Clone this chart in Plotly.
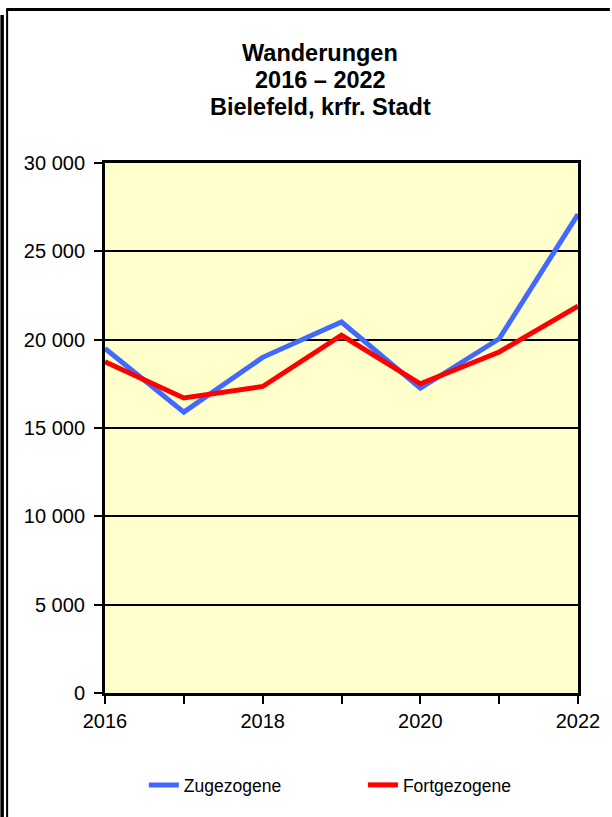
import plotly.graph_objects as go

years = [2016, 2017, 2018, 2019, 2020, 2021, 2022]
zugezogene = [19500, 15900, 19000, 21000, 17250, 20050, 27100]
fortgezogene = [18750, 16700, 17350, 20250, 17500, 19300, 21900]
x_tickvals = [2016, 2017, 2018, 2019, 2020, 2021, 2022]
x_ticktext = ["2016", "", "2018", "", "2020", "", "2022"]
y_tickvals = [0, 5000, 10000, 15000, 20000, 25000, 30000]
y_ticktext = ["0", "5 000", "10 000", "15 000", "20 000", "25 000", "30 000"]
title_lines = ["Wanderungen", "2016 \u2013 2022", "Bielefeld, krfr. Stadt"]

FONT = "Liberation Sans, Arial, sans-serif"
W, H = 612, 817
L, R, T, B = 105, 580, 163, 693


def px(xp):
    return (xp - L) / (R - L)


def py(yp):
    return (B - yp) / (B - T)


fig = go.Figure()
fig.add_trace(go.Scatter(x=years, y=zugezogene, mode="lines", name="Zugezogene",
                         line=dict(color="#4169FF", width=5), legend="legend"))
fig.add_trace(go.Scatter(x=years, y=fortgezogene, mode="lines", name="Fortgezogene",
                         line=dict(color="#FF0000", width=5), legend="legend2"))

leg_common = dict(orientation="h", xanchor="left", y=py(785), yanchor="middle",
                  font=dict(size=17.5, family=FONT), bgcolor="rgba(0,0,0,0)")

fig.update_layout(
    width=W, height=H,
    margin=dict(l=L, r=W - R, t=T, b=H - B, pad=0),
    paper_bgcolor="white", plot_bgcolor="#FFFFCC",
    font=dict(family=FONT, color="black", size=20),
    showlegend=True,
    legend=dict(x=px(144), **leg_common),
    legend2=dict(x=px(364), **leg_common),
    xaxis=dict(range=[2016, 2022], tickvals=x_tickvals, ticktext=x_ticktext,
               showgrid=False, zeroline=False, showline=True, linecolor="black",
               linewidth=3, mirror=True, ticks="outside", ticklen=8, tickwidth=2,
               tickcolor="black", tickfont=dict(size=20)),
    yaxis=dict(range=[0, 30000], tickvals=y_tickvals, ticktext=y_ticktext,
               showgrid=True, gridcolor="black", gridwidth=2, zeroline=False,
               showline=True, linecolor="black", linewidth=3, mirror=True,
               ticks="outside", ticklen=8, tickwidth=2, tickcolor="black",
               tickfont=dict(size=20), ticklabelstandoff=5),
)

ys = [53, 80, 107]
for txt, yp in zip(title_lines, ys):
    fig.add_annotation(text="<b>%s</b>" % txt, xref="paper", yref="paper",
                       x=px(321), y=py(yp),
                       xanchor="center", yanchor="middle", showarrow=False,
                       font=dict(size=23.5, family=FONT, color="black"))

# outer frame lines
fig.add_shape(type="line", xref="paper", yref="paper", x0=px(1.7), x1=px(1.7),
              y0=py(15), y1=py(817), line=dict(color="black", width=3.5))
fig.add_shape(type="line", xref="paper", yref="paper", x0=px(6.7), x1=px(6.7),
              y0=py(8.5), y1=py(817), line=dict(color="black", width=2))
fig.add_shape(type="line", xref="paper", yref="paper", x0=px(6), x1=px(612),
              y0=py(9.5), y1=py(9.5), line=dict(color="black", width=3))

fig.write_html("out.html", config={"displayModeBar": False},
               post_script="document.body.style.margin='0';document.body.style.overflow='hidden';")
